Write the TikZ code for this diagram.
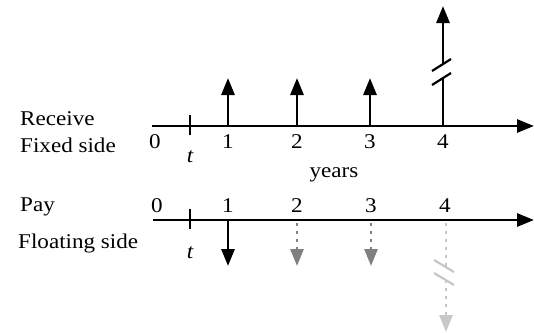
\documentclass[tikz,border=0pt]{standalone}
\usepackage{fontspec}
\setmainfont{Liberation Serif}[FakeStretch=1.1]
\usetikzlibrary{arrows.meta}
\tikzset{
  lbl/.style={inner sep=0pt, anchor=base, font=\fontsize{21}{24}\selectfont},
  side/.style={inner sep=0pt, anchor=base west, font=\fontsize{21}{24}\selectfont},
  axis/.style={line width=2.8pt, -{Triangle[width=13pt,length=17pt]}},
  tickmark/.style={line width=2.6pt},
  flow/.style={line width=2.8pt, -{Triangle[width=13pt,length=17pt]}},
  grayflow/.style={flow, color=black!50, dash pattern=on 2.8pt off 5.2pt},
  paleflow/.style={flow, color=black!22, dash pattern=on 2.8pt off 5.2pt},
  brk/.style={line width=2.2pt}
}
\begin{document}
\begin{tikzpicture}[x=1pt,y=-1pt]
\useasboundingbox (0,0) rectangle (534,332);
% labels
\node[side] (rec) at (20,125) {Receive};
\node[side] (fix) at (20,152) {Fixed side};
\node[side] (pay) at (20,211) {Pay};
\node[side] (flo) at (18,248) {Floating side};
% top axis
\coordinate (a0) at (152,126);
\coordinate (aend) at (534,126);
\draw[axis] (a0) -- (aend);
\coordinate (tt1) at (190,115); \coordinate (tt2) at (190,135);
\draw[tickmark] (tt1) -- (tt2);
\node[lbl] (t0) at (155,148) {0};
\node[lbl] (t1) at (228,148) {1};
\node[lbl] (t2) at (297,148) {2};
\node[lbl] (t3) at (370,148) {3};
\node[lbl] (t4) at (443,148) {4};
\node[lbl] (tt) at (190,162) {\itshape t};
\node[lbl] (yr) at (334,177) {years};
% up arrows
\coordinate (u1b) at (228,126); \coordinate (u1e) at (228,78);
\coordinate (u2b) at (297,126); \coordinate (u2e) at (297,78);
\coordinate (u3b) at (370,126); \coordinate (u3e) at (370,78);
\draw[flow] (u1b) -- (u1e);
\draw[flow] (u2b) -- (u2e);
\draw[flow] (u3b) -- (u3e);
\coordinate (u4b) at (443,126); \coordinate (u4m1) at (443,78);
\coordinate (u4m2) at (443,65); \coordinate (u4e) at (443,6);
\draw[line width=2.8pt] (u4b) -- (u4m1);
\draw[flow] (u4m2) -- (u4e);
\coordinate (s1a) at (432,71); \coordinate (s1b) at (451,59);
\coordinate (s2a) at (432,85); \coordinate (s2b) at (451,73);
\draw[brk] (s1a) -- (s1b);
\draw[brk] (s2a) -- (s2b);
% bottom axis
\coordinate (b0) at (153,220);
\coordinate (bend) at (534,220);
\draw[axis] (b0) -- (bend);
\coordinate (bt1) at (190,209); \coordinate (bt2) at (190,229);
\draw[tickmark] (bt1) -- (bt2);
\node[lbl] (b0l) at (157,212) {0};
\node[lbl] (b1l) at (228,212) {1};
\node[lbl] (b2l) at (297,212) {2};
\node[lbl] (b3l) at (371,212) {3};
\node[lbl] (b4l) at (445,212) {4};
\node[lbl] (bt) at (190,258) {\itshape t};
% down arrows
\coordinate (d1b) at (228,220); \coordinate (d1e) at (228,266);
\coordinate (d2b) at (297,223); \coordinate (d2e) at (297,266);
\coordinate (d3b) at (371,223); \coordinate (d3e) at (371,266);
\draw[flow] (d1b) -- (d1e);
\draw[grayflow] (d2b) -- (d2e);
\draw[grayflow] (d3b) -- (d3e);
\coordinate (d4b) at (446,223); \coordinate (d4m1) at (446,266);
\coordinate (d4m2) at (446,280); \coordinate (d4e) at (446,332);
\draw[color=black!22, line width=2.8pt, dash pattern=on 2.8pt off 5.2pt] (d4b) -- (d4m1);
\draw[paleflow] (d4m2) -- (d4e);
\coordinate (r1a) at (434,260); \coordinate (r1b) at (454,272);
\coordinate (r2a) at (434,273); \coordinate (r2b) at (454,285);
\draw[brk, color=black!22] (r1a) -- (r1b);
\draw[brk, color=black!22] (r2a) -- (r2b);
\end{tikzpicture}
\end{document}
